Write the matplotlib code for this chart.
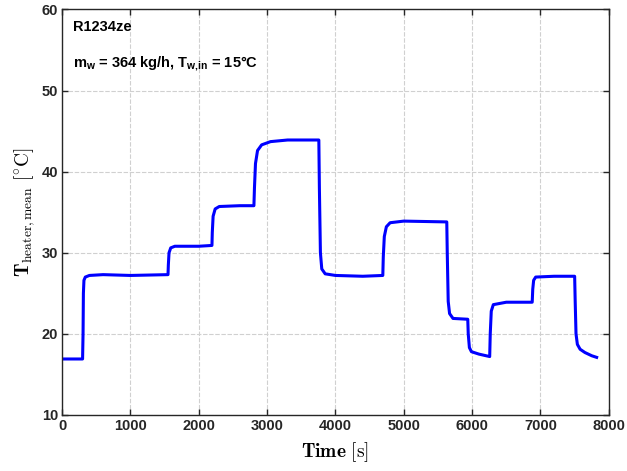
import matplotlib
matplotlib.use("Agg")
import matplotlib.pyplot as plt

# Data
time_s = [0, 300, 307, 312, 320, 340, 400, 600, 1000, 1550, 1555, 1565, 1590, 1650,
          2000, 2193, 2198, 2210, 2240, 2300, 2600, 2807, 2815, 2830, 2860, 2920,
          3050, 3300, 3757, 3765, 3780, 3800, 3850, 4000, 4400, 4693, 4700, 4715,
          4745, 4800, 5000, 5629, 5636, 5650, 5670, 5720, 5936, 5943, 5960, 5990,
          6100, 6257, 6265, 6280, 6310, 6500, 6879, 6887, 6900, 6930, 7200, 7500,
          7508, 7520, 7540, 7580, 7650, 7750, 7822]
temp_C = [16.9, 16.9, 20.0, 25.0, 26.6, 27.0, 27.2, 27.3, 27.2, 27.3, 28.5, 30.0, 30.6, 30.8,
          30.8, 30.9, 32.5, 34.5, 35.4, 35.7, 35.8, 35.8, 38.0, 41.0, 42.6, 43.3,
          43.7, 43.9, 43.9, 38.0, 30.0, 28.0, 27.4, 27.2, 27.1, 27.2, 29.5, 32.0,
          33.2, 33.7, 33.9, 33.8, 30.0, 24.0, 22.5, 21.9, 21.8, 20.0, 18.3, 17.8,
          17.5, 17.2, 20.0, 22.8, 23.6, 23.9, 23.9, 25.5, 26.6, 27.0, 27.1, 27.1,
          24.0, 20.0, 18.7, 18.1, 17.7, 17.3, 17.1]

x_ticks = [0, 1000, 2000, 3000, 4000, 5000, 6000, 7000, 8000]
y_ticks = [10, 20, 30, 40, 50, 60]
title_text = "R1234ze"
cond_text = r"m$_{\rm w}$ = 364 kg/h, T$_{\rm w{,}in}$ = 15°C"

plt.rcParams['mathtext.fontset'] = 'custom'
plt.rcParams['mathtext.rm'] = 'Liberation Sans:bold'
plt.rcParams['mathtext.it'] = 'Liberation Sans:bold'
plt.rcParams['mathtext.bf'] = 'Liberation Sans:bold'

fig = plt.figure(figsize=(6.27, 4.71), dpi=100)
ax = fig.add_axes([0.099, 0.119, 0.872, 0.861])

ax.plot(time_s, temp_C, color='#0000ff', lw=2.2)

ax.set_xlim(0, 8000)
ax.set_ylim(10, 60)
ax.set_xticks(x_ticks)
ax.set_yticks(y_ticks)
ax.set_xticklabels([str(v) for v in x_ticks], fontfamily='Liberation Sans',
                   fontweight='bold', fontsize=10.5, color='#262626')
ax.set_yticklabels([str(v) for v in y_ticks], fontfamily='Liberation Sans',
                   fontweight='bold', fontsize=10.5, color='#262626')
ax.tick_params(direction='in', length=4, width=1, color='#262626',
               top=True, right=True, pad=3)
for s in ax.spines.values():
    s.set_color('#262626')
    s.set_linewidth(1.0)

ax.grid(True, color='#d0d0d0', lw=0.8, linestyle=(0, (4, 1.5)))
ax.set_axisbelow(True)

ax.set_xlabel(r"$\mathbf{Time}\ [\mathrm{s}]$", fontsize=14, math_fontfamily='cm',
              labelpad=5)
ax.set_ylabel(r"$\mathbf{T}_{\mathrm{heater,mean}}\ [^{\circ}\mathrm{C}]$", fontsize=14,
              math_fontfamily='cm', labelpad=3)

ax.text(160, 57.8, title_text, fontfamily='Liberation Sans', fontweight='bold',
        fontsize=10.5, va='center', ha='left')
ax.text(160, 53.3, cond_text, fontfamily='Liberation Sans', fontweight='bold',
        fontsize=10.5, va='center', ha='left')

fig.savefig('out.png', dpi=100)
